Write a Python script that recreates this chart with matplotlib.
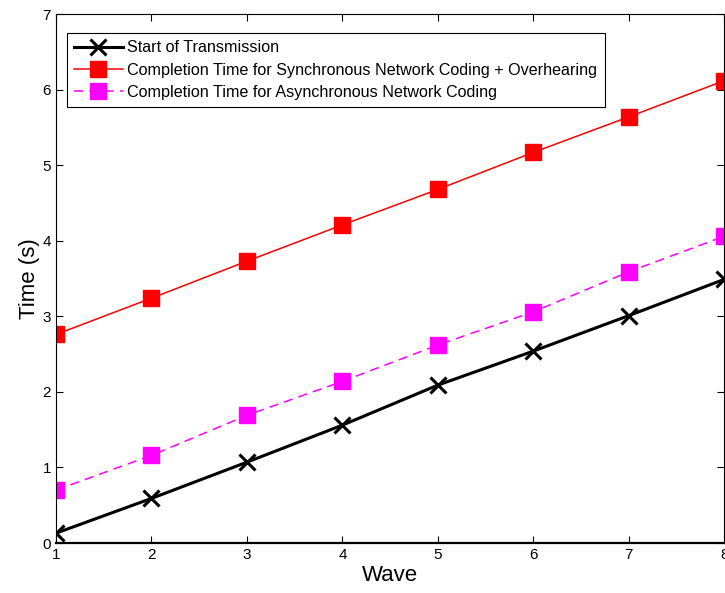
import matplotlib
matplotlib.use("Agg")
import matplotlib.pyplot as plt

# values
waves = [1, 2, 3, 4, 5, 6, 7, 8]
start_tx = [0.13, 0.59, 1.07, 1.56, 2.09, 2.54, 3.01, 3.49]
sync_overhearing = [2.76, 3.24, 3.73, 4.21, 4.68, 5.17, 5.64, 6.12]
async_coding = [0.70, 1.16, 1.69, 2.14, 2.62, 3.06, 3.59, 4.06]

labels = [
    "Start of Transmission",
    "Completion Time for Synchronous Network Coding + Overhearing",
    "Completion Time for Asynchronous Network Coding",
]

plt.rcParams["font.family"] = ["Liberation Sans", "DejaVu Sans"]

fig = plt.figure(figsize=(7.25, 5.93), dpi=100)
ax = fig.add_axes([0.0772, 0.0843, 0.922, 0.892])

ax.plot(waves, start_tx, color="black", linewidth=2.2, marker="x",
        markersize=12, markeredgewidth=2.2, label=labels[0])
ax.plot(waves, sync_overhearing, color="red", linewidth=1.1, marker="s",
        markersize=11, label=labels[1])
ax.plot(waves, async_coding, color="magenta", linewidth=1.1, linestyle=(0, (6, 4)),
        marker="s", markersize=11, label=labels[2])

ax.set_xlim(1, 8)
ax.set_ylim(0, 7)
ax.set_xticks(waves)
ax.set_yticks(range(0, 8))
ax.tick_params(direction="in", top=True, right=True, labelsize=11, length=5)
for s in ax.spines.values():
    s.set_linewidth(0.8)
ax.spines["bottom"].set_linewidth(1.6)

ax.set_xlabel("Wave", fontsize=16, labelpad=2)
ax.set_ylabel("Time (s)", fontsize=16, labelpad=2)

leg = ax.legend(loc="upper left", bbox_to_anchor=(0.0165, 0.964), borderaxespad=0,
                fontsize=11.6, handlelength=3.0, handletextpad=0.3, borderpad=0.45,
                labelspacing=0.45, fancybox=False, framealpha=1, edgecolor="black")
leg.get_frame().set_linewidth(0.8)

fig.savefig("out.png", dpi=100)
